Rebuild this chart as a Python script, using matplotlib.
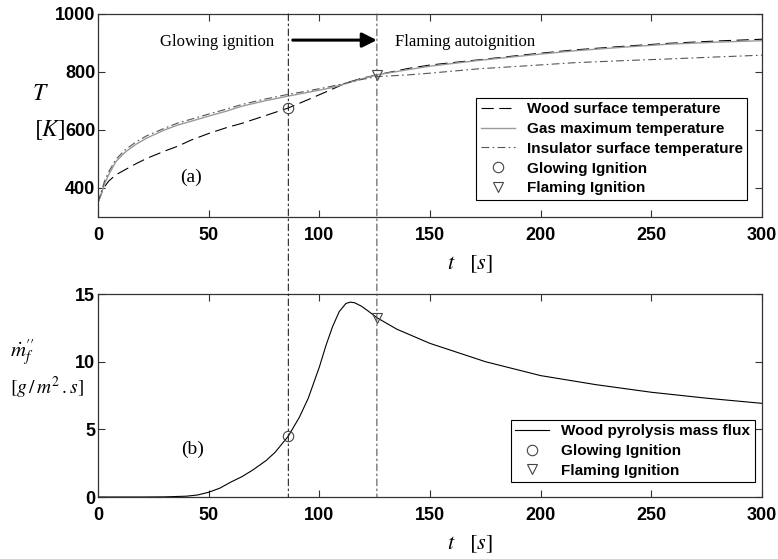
import matplotlib
matplotlib.use("Agg")
import matplotlib.pyplot as plt
from matplotlib.patches import ConnectionPatch

plt.rcParams['mathtext.fontset'] = 'stix'
plt.rcParams['font.family'] = ['Liberation Sans', 'DejaVu Sans']

# ---- data ----
t_T = [0, 1, 2, 3, 5, 8, 12, 17, 22, 30, 36, 42, 50, 58, 65, 75, 86, 95, 105,
       112, 119, 126, 140, 150, 172, 195, 215, 240, 258, 280, 300]
T_wood = [350, 370, 390, 405, 425, 445, 462, 483, 502, 527, 544, 565, 588, 608, 623, 648, 676, 705, 738,
          762, 778, 790, 812, 824, 842, 861, 876, 890, 899, 907, 913]
T_gas = [350, 370, 392, 415, 448, 490, 522, 550, 572, 600, 617, 630, 648, 665, 682, 700, 717, 730, 745,
         760, 776, 790, 808, 820, 840, 858, 873, 887, 896, 903, 908]
T_ins = [350, 375, 400, 425, 458, 498, 530, 558, 580, 606, 624, 637, 655, 672, 688, 706, 723, 735, 750,
         762, 774, 784, 790, 796, 811, 822, 832, 840, 845, 852, 858]

t_m = [0, 20, 30, 40, 45, 50, 55, 60, 65, 70, 76, 80, 86, 91, 95, 100, 103, 106, 109, 112, 114,
       116, 119, 122, 126, 135, 150, 175, 200, 225, 250, 275, 300]
m_flux = [0, 0, 0.01, 0.06, 0.15, 0.35, 0.65, 1.1, 1.5, 2.0, 2.7, 3.3, 4.5, 5.9, 7.3, 9.6, 11.2, 12.6, 13.7, 14.3, 14.4,
          14.35, 14.1, 13.75, 13.25, 12.4, 11.35, 10.0, 8.97, 8.3, 7.74, 7.3, 6.92]

t_glow = 86
t_flame = 126
T_glow = 676
T_flame = 790
m_glow = 4.5
m_flame = 13.25

xticks = [0, 50, 100, 150, 200, 250, 300]
yticks_T = [400, 600, 800, 1000]
yticks_m = [0, 5, 10, 15]

# ---- figure ----
W, H = 778, 559
fig = plt.figure(figsize=(W / 100, H / 100), dpi=100)
L, R = 98 / W, 762 / W
ax1 = fig.add_axes([L, 1 - 217 / H, R - L, 203 / H])
ax2 = fig.add_axes([L, 1 - 497 / H, R - L, 203 / H])

gray = '#9a9a9a'
mk = '#444444'

ax1.plot(t_T, T_wood, color='black', lw=0.8, dashes=(11, 5), label='Wood surface temperature')
ax1.plot(t_T, T_gas, color=gray, lw=1.0, label='Gas maximum temperature')
ax1.plot(t_T, T_ins, color='#555555', lw=0.8, dashes=(7, 3, 1.5, 3), label='Insulator surface temperature')
ax1.plot([t_glow], [T_glow], ls='none', marker='o', ms=7.5, mfc='none', mec=mk, mew=0.8, label='Glowing Ignition')
ax1.plot([t_flame], [T_flame], ls='none', marker='v', ms=7.5, mfc='none', mec=mk, mew=0.8, label='Flaming Ignition')

ax2.plot(t_m, m_flux, color='black', lw=0.8, label='Wood pyrolysis mass flux')
ax2.plot([t_glow], [m_glow], ls='none', marker='o', ms=7.5, mfc='none', mec=mk, mew=0.8, label='Glowing Ignition')
ax2.plot([t_flame], [m_flame], ls='none', marker='v', ms=7.5, mfc='none', mec=mk, mew=0.8, label='Flaming Ignition')

ax1.set_xlim(0, 300)
ax1.set_ylim(300, 1000)
ax2.set_xlim(0, 300)
ax2.set_ylim(0, 15)
ax1.set_xticks(xticks)
ax2.set_xticks(xticks)
ax1.set_yticks(yticks_T)
ax2.set_yticks(yticks_m)

for ax in (ax1, ax2):
    ax.tick_params(direction='in', top=True, right=True, length=5, width=0.8,
                   labelsize=13, color='#333333')
    ax.tick_params(axis='x', pad=7)
    ax.tick_params(axis='y', pad=2)
    for lab in ax.get_xticklabels() + ax.get_yticklabels():
        lab.set_fontweight('bold')
    for s in ax.spines.values():
        s.set_linewidth(0.9)
        s.set_color('#333333')
    ax.set_xlabel(r'$t\quad[s]$', fontsize=16)
    ax.xaxis.set_label_coords(0.56, -0.18)

# vertical ignition lines spanning both panels
for tv, col in ((t_glow, '#222222'), (t_flame, '#555555')):
    con = ConnectionPatch(xyA=(tv, 1000), coordsA=ax1.transData,
                          xyB=(tv, 0), coordsB=ax2.transData,
                          color=col, lw=0.8, linestyle=(0, (6, 3, 1.5, 3)))
    fig.add_artist(con)

# annotations
ax1.annotate('', xy=(t_flame, 910), xytext=(88, 910),
             arrowprops=dict(arrowstyle='-|>', lw=2.2, color='black', mutation_scale=22,
                             shrinkA=0, shrinkB=0))
ax1.text(54, 905, 'Glowing ignition', ha='center', va='center', fontsize=12,
         family='Liberation Serif')
ax1.text(134, 905, 'Flaming autoignition', ha='left', va='center', fontsize=12,
         family='Liberation Serif')
ax1.text(42, 438, '(a)', ha='center', va='center', fontsize=14, family='Liberation Serif')
ax2.text(42.5, 3.5, '(b)', ha='center', va='center', fontsize=14, family='Liberation Serif')

# y labels
fig.text(40 / W, 1 - 94 / H, r'$T$', ha='center', va='center', fontsize=17)
fig.text(50 / W, 1 - 130 / H, r'$[K]$', ha='center', va='center', fontsize=17)
fig.text(22 / W, 1 - 353 / H, r"$\dot{m}_f''$", ha='center', va='center', fontsize=15)
fig.text(47 / W, 1 - 388 / H, r'$[g\,/\,m^2\,.s]$', ha='center', va='center', fontsize=14)

leg_kw = dict(loc='lower right', frameon=True, fancybox=False, framealpha=1,
              edgecolor='black', prop={'weight': 'bold', 'size': 11},
              handlelength=2.2, handletextpad=0.8, labelspacing=0.38, borderpad=0.3,
              borderaxespad=0)
l1 = ax1.legend(bbox_to_anchor=(0.978, 0.084), **leg_kw)
l2 = ax2.legend(bbox_to_anchor=(0.989, 0.072), **leg_kw)
for l in (l1, l2):
    l.get_frame().set_linewidth(0.8)

fig.savefig('out.png', dpi=100)
